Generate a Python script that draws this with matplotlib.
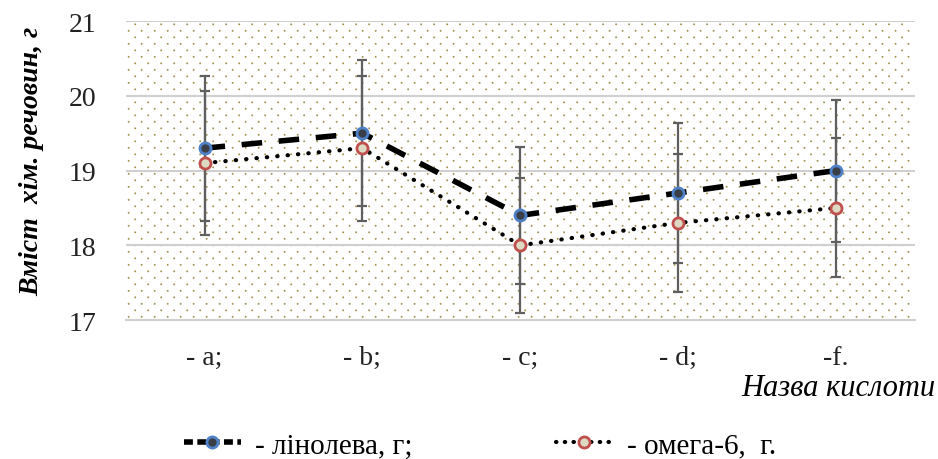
import matplotlib.pyplot as plt
import numpy as np
from matplotlib.lines import Line2D

categories = ["- a;", "- b;", "- c;", "- d;", "-f."]
linoleic = [19.3, 19.5, 18.4, 18.7, 19.0]
linoleic_err = [0.97, 0.98, 0.92, 0.94, 0.95]
omega6 = [19.1, 19.3, 18.0, 18.3, 18.5]
omega6_err = [0.96, 0.97, 0.90, 0.92, 0.93]
yticks = [17, 18, 19, 20, 21]


def dotted_background(ax, w_px, h_px, step_x=13.0, step_y=6.5):
    # small olive dots in staggered rows, like the Excel pattern fill
    xs, ys = [], []
    for i, yy in enumerate(np.arange(step_y / 2, h_px, step_y)):
        off = 0 if i % 2 == 0 else step_x / 2
        for xx in np.arange(off + 3, w_px, step_x):
            xs.append(xx / w_px)
            ys.append(yy / h_px)
    ax.scatter(xs, ys, s=2.0, color='#a39458', edgecolors='none',
               transform=ax.transAxes, zorder=0)


def main():
    plt.rcParams['font.family'] = ['Liberation Serif', 'DejaVu Serif']

    fig = plt.figure(figsize=(9.38, 4.6), dpi=100)
    ax = fig.add_axes([0.134, 0.302, 0.841, 0.65])
    dotted_background(ax, 789, 299)

    x = np.arange(len(categories))

    for v in yticks[1:]:
        ax.axhline(v, color='#d0d0d0', lw=1.5, zorder=1)

    ax.errorbar(x, linoleic, yerr=linoleic_err, fmt='none', ecolor='#5f5f5f',
                elinewidth=1.6, capsize=3.8, capthick=1.6, zorder=2)
    ax.errorbar(x, omega6, yerr=omega6_err, fmt='none', ecolor='#5f5f5f',
                elinewidth=1.6, capsize=3.8, capthick=1.6, zorder=2)

    ax.plot(x, linoleic, color='black', lw=4, dashes=(3.7, 3), zorder=3)
    ax.plot(x, omega6, color='black', lw=3, dashes=(0.1, 2.4),
            dash_capstyle='round', zorder=3)
    ax.plot(x, linoleic, 'o', ms=8, mfc='#3a3f47', mec='#4f81c8', mew=2, zorder=4)
    ax.plot(x, omega6, 'o', ms=8, mfc='#ddd9c3', mec='#c0504d', mew=2, zorder=4)

    ax.set_xlim(-0.5, len(categories) - 0.5)
    ax.set_ylim(17, 21)
    ax.set_yticks(yticks)
    ax.set_xticks(x)
    ax.set_xticklabels(categories)
    ax.tick_params(axis='both', length=0, labelsize=20, colors='#222222')
    ax.tick_params(axis='x', pad=18)
    ax.tick_params(axis='y', pad=21)

    for s in ['top', 'right', 'left']:
        ax.spines[s].set_visible(False)
    ax.spines['bottom'].set_color('#d0d0d0')
    ax.spines['bottom'].set_linewidth(1.5)

    ax.set_ylabel("Вміст  хім. речовин, г", fontsize=20, fontweight='bold',
                  fontstyle='italic')
    ax.yaxis.set_label_coords(-0.103, 0.535)
    fig.text(0.997, 0.155, "Назва кислоти", ha='right', va='center',
             fontsize=22, fontstyle='italic')

    h1 = Line2D([], [], color='black', lw=4, dashes=(1.6, 0.8), marker='o',
                ms=8, mfc='#3a3f47', mec='#4f81c8', mew=2)
    h2 = Line2D([], [], color='black', lw=3, dashes=(0.1, 2.0),
                dash_capstyle='round', marker='o', ms=8, mfc='#ddd9c3',
                mec='#c0504d', mew=2)
    fig.legend([h1, h2], ["- лінолева, г;", "- омега-6,  г."], loc='center',
               bbox_to_anchor=(0.512, 0.03), ncol=2, frameon=False, fontsize=21,
               handlelength=1.95, columnspacing=4.9, handletextpad=0.5)

    fig.savefig("out.png", dpi=100)


if __name__ == '__main__':
    main()
